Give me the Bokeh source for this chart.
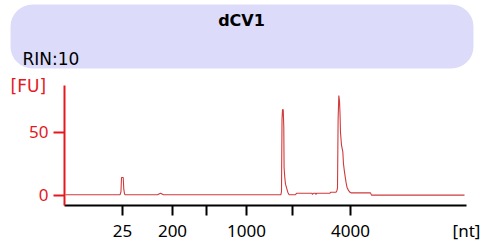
from bokeh.plotting import figure
from bokeh.layouts import column
from bokeh.models import Range1d, FixedTicker, Label, BoxAnnotation
from bokeh.embed import file_html
from bokeh.resources import INLINE

sample_name = "dCV1"
rin_text = "RIN:10"
x_unit = "[nt]"
y_unit = "[FU]"

# ladder: size labels at their migration times (s)
ladder_labels = ["25", "200", "", "1000", "", "4000"]
ladder_times = [26.25, 32.5, 36.75, 41.75, 47.5, 54.75]
fu_ticks = [0, 50]

# electropherogram trace: migration time (s) vs fluorescence (FU)
time_s = [19.125, 25.94, 26.06, 26.125, 26.34, 26.41, 26.5, 26.56, 30.625, 31.0,
          31.375, 46.04, 46.125, 46.19, 46.25, 46.34, 46.41, 46.45, 46.54, 46.625,
          46.75, 46.91, 47.06, 47.125, 47.875, 48.0, 49.94, 50.0, 50.125, 50.375,
          50.44, 50.5, 52.19, 52.25, 52.94, 53.06, 53.125, 53.2, 53.29, 53.375,
          53.44, 53.5, 53.625, 53.79, 53.875, 54.0, 54.19, 54.31, 54.5, 54.69,
          54.81, 57.25, 57.375, 69.0]
fu = [0.56, 0.56, 3, 14.3, 14.3, 5, 1.5, 0.56, 0.56, 1.8,
      0.56, 0.56, 3, 60, 68.3, 68, 55, 22, 14, 9,
      6.3, 2.6, 0.8, 0.56, 0.56, 1.8, 1.8, 0.8, 1.8, 1.8,
      0.8, 1.8, 1.8, 2.6, 2.6, 4, 6, 60, 79.4, 75,
      65, 50, 40, 34.6, 25, 18.5, 10.6, 6.6, 4, 2.5,
      2.1, 2.1, 0.3, 0.3]

RED = "#e3191e"
TRACE = "#d03a3c"

# ---- header panel (sample name + RIN) ----
h = figure(width=485, height=72, output_backend="svg", toolbar_location=None,
           x_range=Range1d(0, 485), y_range=Range1d(72, 0),
           x_axis_type=None, y_axis_type=None, title_location=None,
           min_border_left=0, min_border_right=0, min_border_top=0, min_border_bottom=0)
h.outline_line_color = None
h.grid.visible = False
h.background_fill_color = "white"
h.border_fill_color = "white"
h.add_layout(BoxAnnotation(left=10, right=473, top=4, bottom=68,
                           fill_color="#dcdcfa", fill_alpha=1.0, line_color=None,
                           border_radius=22, level="underlay"))
h.add_layout(Label(x=241, y=20, text=sample_name,
                   text_align="center", text_baseline="middle",
                   text_font="DejaVu Sans", text_font_style="bold",
                   text_font_size="16px", text_color="black"))
h.add_layout(Label(x=22, y=58, text=rin_text,
                   text_align="left", text_baseline="middle",
                   text_font="DejaVu Sans", text_font_size="17px", text_color="black"))

# ---- electropherogram ----
p = figure(width=485, height=173, output_backend="svg", toolbar_location=None,
           x_range=Range1d(19, 69.25), y_range=Range1d(-7.94, 87.3),
           title_location=None,
           min_border_left=64, min_border_right=19, min_border_top=13,
           min_border_bottom=40)
p.outline_line_color = None
p.grid.visible = False
p.background_fill_color = "white"
p.border_fill_color = "white"

for fig in (h, p):
    if "frame_align" in fig.properties():
        fig.frame_align = False

p.line(time_s, fu, line_color=TRACE, line_width=1.1)

xa = p.xaxis[0]
xa.ticker = FixedTicker(ticks=ladder_times)
xa.major_label_overrides = {t: l for t, l in zip(ladder_times, ladder_labels)}
xa.axis_line_color = "black"
xa.axis_line_width = 2
xa.major_tick_line_color = "black"
xa.major_tick_line_width = 2
xa.major_tick_out = 10
xa.major_tick_in = 0
xa.minor_tick_line_color = None
xa.major_label_standoff = 9
xa.major_label_text_font = "Noto Sans"
xa.major_label_text_font_size = "17px"
xa.major_label_text_color = "black"
xa.axis_label = x_unit
xa.axis_label_text_font = "Noto Sans"
xa.axis_label_text_font_size = "17px"
xa.axis_label_text_font_style = "normal"
xa.axis_label_text_color = "black"
xa.axis_label_standoff = -21
if "axis_label_align" in xa.properties():
    xa.axis_label_align = "end"

ya = p.yaxis[0]
ya.ticker = FixedTicker(ticks=fu_ticks)
ya.axis_line_color = RED
ya.axis_line_width = 2
ya.major_tick_line_color = RED
ya.major_tick_line_width = 2
ya.major_tick_out = 11
ya.major_tick_in = 0
ya.minor_tick_line_color = None
ya.major_label_standoff = 5
ya.major_label_text_font = "Noto Sans"
ya.major_label_text_font_size = "17px"
ya.major_label_text_color = RED
ya.axis_label = y_unit
ya.axis_label_text_font = "DejaVu Sans"
ya.axis_label_text_font_size = "17px"
ya.axis_label_text_font_style = "normal"
ya.axis_label_text_color = RED
ya.axis_label_orientation = "horizontal"
ya.axis_label_standoff = -20
if "axis_label_align" in ya.properties():
    ya.axis_label_align = "end"

layout = column(h, p, spacing=0)
open("out.html", "w").write(file_html(layout, INLINE))
